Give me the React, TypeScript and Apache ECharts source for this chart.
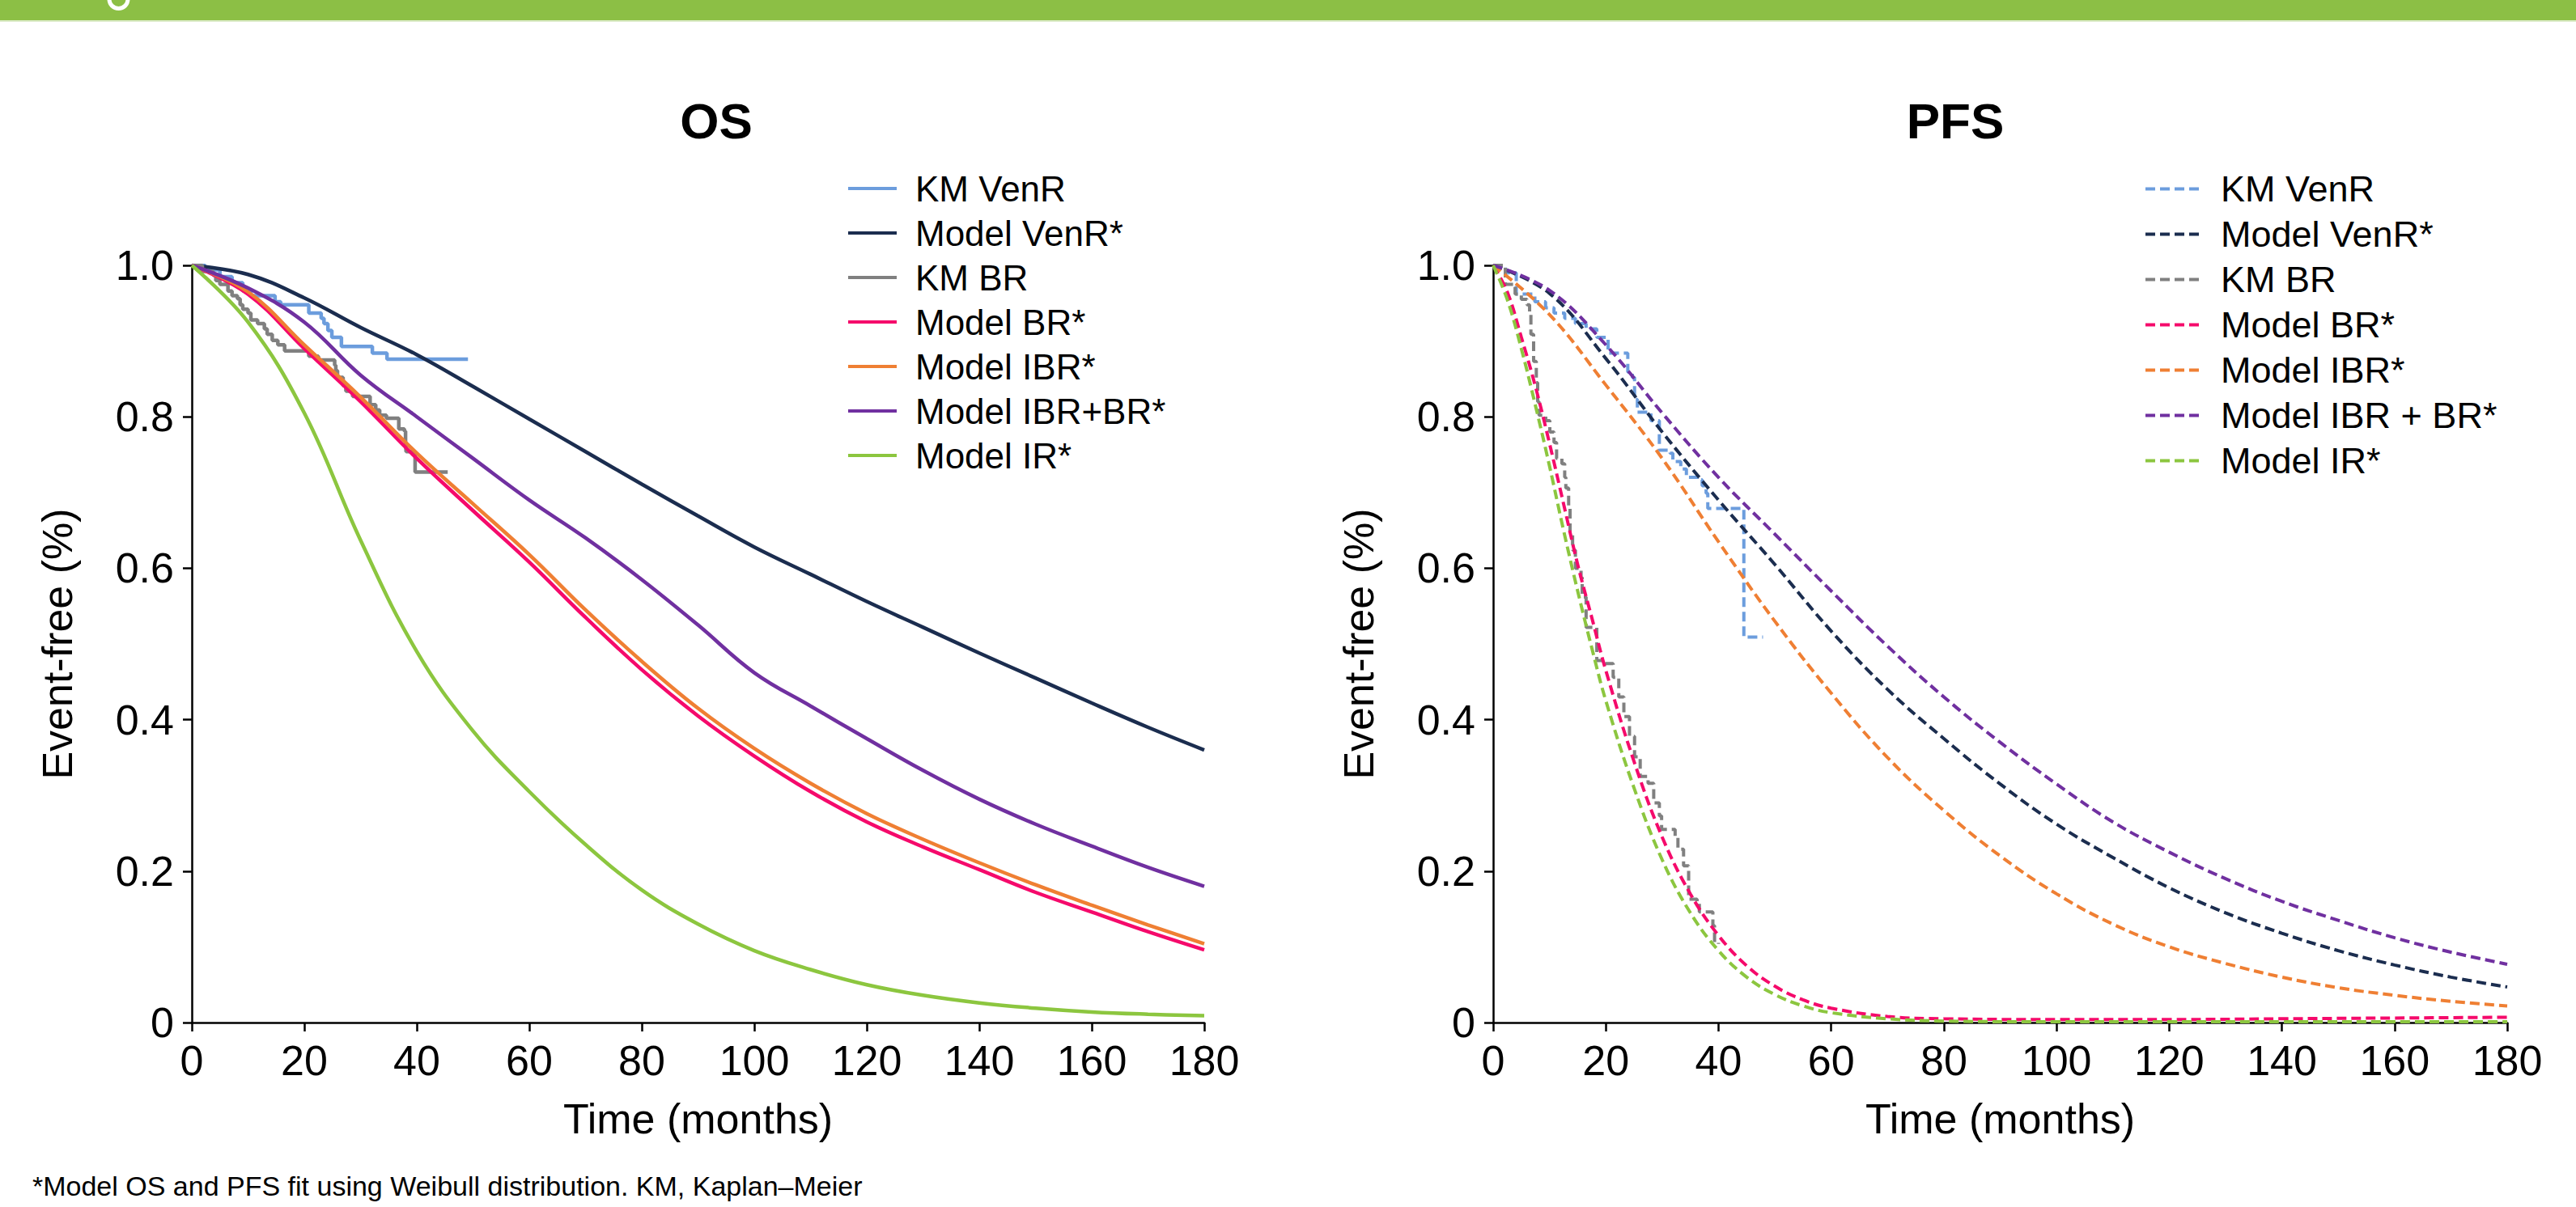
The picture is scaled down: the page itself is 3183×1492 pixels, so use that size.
import React, { useEffect, useRef } from "react";
import * as echarts from "echarts";

const FONT = '"Liberation Sans", Arial, Helvetica, sans-serif';

// ---------- OS data ----------
const osT = [0, 10, 20, 30, 40, 50, 60, 70, 80, 90, 100, 110, 120, 130, 140, 150, 160, 170, 180];
const osModelVenR = [1, 0.988, 0.957, 0.918, 0.882, 0.84, 0.797, 0.754, 0.711, 0.669, 0.628, 0.592, 0.556, 0.522, 0.488, 0.455, 0.422, 0.39, 0.36];
const osModelBR = [1, 0.962, 0.89, 0.82, 0.745, 0.676, 0.608, 0.535, 0.466, 0.405, 0.352, 0.305, 0.265, 0.232, 0.202, 0.172, 0.146, 0.12, 0.096];
const osModelIBR = [1, 0.965, 0.895, 0.826, 0.752, 0.685, 0.618, 0.545, 0.477, 0.415, 0.362, 0.316, 0.276, 0.242, 0.211, 0.182, 0.155, 0.129, 0.104];
const osModelIBRBR = [1, 0.97, 0.925, 0.855, 0.8, 0.745, 0.69, 0.64, 0.585, 0.525, 0.462, 0.418, 0.375, 0.333, 0.295, 0.262, 0.233, 0.205, 0.18];
const osModelIR = [1, 0.925, 0.805, 0.637, 0.49, 0.385, 0.305, 0.235, 0.175, 0.13, 0.095, 0.07, 0.05, 0.036, 0.026, 0.019, 0.014, 0.011, 0.009];

const osKmVenRT = [0, 2.35, 5.0, 7.15, 9.06, 10.5, 14.8, 15.8, 20.8, 23.0, 23.5, 24.2, 24.9, 26.6, 32.1, 34.7, 49.1];
const osKmVenRV = [1, 0.994, 0.985, 0.977, 0.966, 0.96, 0.952, 0.948, 0.937, 0.93, 0.923, 0.914, 0.905, 0.893, 0.884, 0.876, 0.876];
const osKmBRT = [0, 1.87, 3.79, 4.27, 4.99, 6.43, 7.15, 8.11, 8.59, 9.06, 10.0, 10.5, 11.7, 12.9, 13.4, 14.3, 15.3, 16.5, 20.8, 22.5, 25.4, 25.6, 25.9, 26.9, 27.4, 28.6, 31.7, 32.7, 33.4, 34.6, 36.8, 37.8, 38.0, 38.1, 39.7, 45.5];
const osKmBRV = [1, 0.992, 0.987, 0.98, 0.975, 0.966, 0.96, 0.956, 0.948, 0.942, 0.937, 0.928, 0.923, 0.916, 0.909, 0.901, 0.895, 0.887, 0.88, 0.875, 0.868, 0.861, 0.852, 0.841, 0.834, 0.827, 0.816, 0.809, 0.802, 0.798, 0.784, 0.781, 0.766, 0.754, 0.727, 0.727];

// ---------- PFS data ----------
const pfsSlowT = [0, 10, 20, 30, 40, 50, 60, 70, 80, 90, 100, 110, 120, 130, 140, 150, 160, 170, 180];
const pfsModelVenR = [1, 0.963, 0.877, 0.78, 0.69, 0.605, 0.517, 0.44, 0.375, 0.315, 0.262, 0.218, 0.178, 0.145, 0.118, 0.095, 0.076, 0.06, 0.047];
const pfsModelIBR = [1, 0.935, 0.842, 0.745, 0.635, 0.53, 0.435, 0.35, 0.28, 0.22, 0.17, 0.13, 0.1, 0.078, 0.06, 0.046, 0.036, 0.028, 0.022];
const pfsModelIBRBR = [1, 0.967, 0.895, 0.805, 0.72, 0.645, 0.57, 0.497, 0.43, 0.37, 0.315, 0.265, 0.225, 0.19, 0.16, 0.135, 0.112, 0.093, 0.077];

const pfsFastT = [0, 2.5, 5, 7.5, 10, 12.5, 15, 17.5, 20, 25, 30, 35, 40, 45, 50, 55, 60, 70, 80, 100, 120, 140, 160, 180];
const pfsModelBR = [1, 0.965, 0.905, 0.84, 0.765, 0.685, 0.605, 0.535, 0.465, 0.345, 0.245, 0.17, 0.115, 0.075, 0.048, 0.03, 0.019, 0.008, 0.005, 0.004, 0.004, 0.005, 0.006, 0.007];
const pfsModelIR = [1, 0.955, 0.89, 0.815, 0.735, 0.65, 0.57, 0.495, 0.425, 0.31, 0.215, 0.145, 0.095, 0.06, 0.037, 0.022, 0.013, 0.005, 0.002, 0.001, 0.001, 0.001, 0.001, 0.001];

const pfsKmVenRT = [0, 2.2, 4.1, 7.4, 9.3, 10.8, 12.7, 14.6, 16.5, 18.4, 20.4, 23.9, 24.7, 25.1, 25.6, 28.0, 29.5, 31.4, 31.9, 33.3, 34.3, 36.2, 37.1, 37.8, 38.1, 44.5, 47.9];
const pfsKmVenRV = [1, 0.99, 0.962, 0.952, 0.944, 0.937, 0.93, 0.923, 0.916, 0.905, 0.884, 0.859, 0.852, 0.823, 0.806, 0.795, 0.756, 0.752, 0.741, 0.731, 0.72, 0.717, 0.709, 0.699, 0.679, 0.509, 0.509];
const pfsKmBRT = [0, 2.16, 3.9, 5.0, 6.0, 6.47, 6.7, 7.18, 7.66, 7.9, 8.14, 9.34, 10.06, 10.8, 11.26, 12.2, 12.7, 12.9, 13.4, 13.65, 14.1, 14.6, 15.6, 15.8, 16.5, 18.4, 19.9, 21.3, 22.3, 23.2, 24.2, 25.1, 26.1, 27.5, 28.5, 29.5, 29.9, 32.3, 32.8, 33.8, 34.7, 36.2, 36.6, 39.0, 39.3, 40.0];
const pfsKmBRV = [1, 0.975, 0.962, 0.955, 0.948, 0.937, 0.909, 0.873, 0.845, 0.82, 0.802, 0.795, 0.78, 0.766, 0.745, 0.738, 0.72, 0.706, 0.681, 0.645, 0.624, 0.6, 0.588, 0.562, 0.522, 0.478, 0.474, 0.456, 0.43, 0.404, 0.378, 0.351, 0.325, 0.316, 0.29, 0.273, 0.255, 0.246, 0.229, 0.207, 0.163, 0.159, 0.146, 0.128, 0.106, 0.104];

const osNames = ["KM VenR", "Model VenR*", "KM BR", "Model BR*", "Model IBR*", "Model IBR+BR*", "Model IR*"];
const pfsNames = ["KM VenR", "Model VenR*", "KM BR", "Model BR*", "Model IBR*", "Model IBR + BR*", "Model IR*"];

const C_KMVENR = "#6c9ddd";
const C_VENR = "#1b2d4f";
const C_KMBR = "#808080";
const C_BR = "#f50a6b";
const C_IBR = "#ef7f33";
const C_IBRBR = "#7030a0";
const C_IR = "#8cc63f";
const BANNER = "#8cbf45";

const zip = (ts: number[], vs: number[]) => ts.map((t, i) => [t, vs[i]]);

function mkSeries(name: string, data: number[][], color: string, dashed: boolean, step: boolean) {
  return {
    name,
    type: "line",
    data,
    symbol: "none",
    showSymbol: false,
    step: step ? "end" : false,
    smooth: step ? false : 0.4,
    silent: true,
    itemStyle: { color },
    lineStyle: { color, width: dashed ? 4 : 4.5, type: dashed ? [12, 6] : "solid" },
  };
}

function axes(gridLeft: number, gridWidth: number) {
  const axisLine = { show: true, onZero: false, lineStyle: { color: "#000", width: 2.5 } };
  const axisTick = { show: true, length: 11, lineStyle: { color: "#000", width: 2.5 } };
  return {
    grid: { left: gridLeft, top: 328, width: gridWidth, height: 936 },
    xAxis: {
      type: "value",
      min: 0,
      max: 180,
      interval: 20,
      name: "Time (months)",
      nameLocation: "middle",
      nameGap: 93,
      nameTextStyle: { fontSize: 52, color: "#000", fontFamily: FONT },
      axisLine,
      axisTick,
      splitLine: { show: false },
      axisLabel: { fontSize: 52, color: "#000", fontFamily: FONT, margin: 21 },
    },
    yAxis: {
      type: "value",
      min: 0,
      max: 1,
      interval: 0.2,
      name: "Event-free (%)",
      nameLocation: "middle",
      nameGap: 140,
      nameTextStyle: { fontSize: 52, color: "#000", fontFamily: FONT },
      axisLine,
      axisTick,
      splitLine: { show: false },
      axisLabel: {
        fontSize: 52,
        color: "#000",
        fontFamily: FONT,
        margin: 22,
        formatter: (v: number) => (v === 0 ? "0" : v.toFixed(1)),
      },
    },
  };
}

function banner(width: number) {
  return [
    { type: "rect", shape: { x: 0, y: 0, width, height: 25 }, style: { fill: BANNER }, silent: true },
    { type: "rect", shape: { x: 0, y: 25, width, height: 2 }, style: { fill: "#dcebc8" }, silent: true },
  ];
}

function legend(left: number, itemWidth: number, fontSize: number, textPad: number, names: string[]) {
  return {
    orient: "vertical",
    left,
    top: 211,
    padding: 0,
    itemWidth,
    itemHeight: 14,
    itemGap: 11,
    selectedMode: false,
    itemStyle: { opacity: 0 },
    lineStyle: { width: 4 },
    textStyle: { fontSize, color: "#000", fontFamily: FONT, padding: [0, 0, 0, textPad] },
    data: names,
  };
}

function leftOption() {
  const a = axes(237, 1251);
  return {
    animation: false,
    backgroundColor: "#fff",
    ...a,
    legend: legend(1046, 60, 44, 18, osNames),
    graphic: [
      ...banner(1592),
      {
        type: "arc",
        silent: true,
        shape: { cx: 146.5, cy: -1, r: 11.5, startAngle: 0, endAngle: Math.PI, clockwise: true },
        style: { stroke: "#fff", lineWidth: 5, fill: null },
      },
      {
        type: "text",
        x: 885,
        y: 149,
        silent: true,
        style: { text: "OS", fill: "#000", font: `bold 62px ${FONT}`, textAlign: "center", textVerticalAlign: "middle" },
      },
      {
        type: "text",
        x: 40,
        y: 1466,
        silent: true,
        style: {
          text: "*Model OS and PFS fit using Weibull distribution. KM, Kaplan–Meier",
          fill: "#000",
          font: `34px ${FONT}`,
          textAlign: "left",
          textVerticalAlign: "middle",
        },
      },
    ],
    series: [
      mkSeries(osNames[0], zip(osKmVenRT, osKmVenRV), C_KMVENR, false, true),
      mkSeries(osNames[1], zip(osT, osModelVenR), C_VENR, false, false),
      mkSeries(osNames[2], zip(osKmBRT, osKmBRV), C_KMBR, false, true),
      mkSeries(osNames[3], zip(osT, osModelBR), C_BR, false, false),
      mkSeries(osNames[4], zip(osT, osModelIBR), C_IBR, false, false),
      mkSeries(osNames[5], zip(osT, osModelIBRBR), C_IBRBR, false, false),
      mkSeries(osNames[6], zip(osT, osModelIR), C_IR, false, false),
    ],
  };
}

function rightOption() {
  const a = axes(253, 1253);
  return {
    animation: false,
    backgroundColor: "#fff",
    ...a,
    legend: legend(1057, 67, 45, 21, pfsNames),
    graphic: [
      ...banner(1591),
      {
        type: "text",
        x: 824,
        y: 149,
        silent: true,
        style: { text: "PFS", fill: "#000", font: `bold 62px ${FONT}`, textAlign: "center", textVerticalAlign: "middle" },
      },
    ],
    series: [
      mkSeries(pfsNames[0], zip(pfsKmVenRT, pfsKmVenRV), C_KMVENR, true, true),
      mkSeries(pfsNames[1], zip(pfsSlowT, pfsModelVenR), C_VENR, true, false),
      mkSeries(pfsNames[2], zip(pfsKmBRT, pfsKmBRV), C_KMBR, true, true),
      mkSeries(pfsNames[3], zip(pfsFastT, pfsModelBR), C_BR, true, false),
      mkSeries(pfsNames[4], zip(pfsSlowT, pfsModelIBR), C_IBR, true, false),
      mkSeries(pfsNames[5], zip(pfsSlowT, pfsModelIBRBR), C_IBRBR, true, false),
      mkSeries(pfsNames[6], zip(pfsFastT, pfsModelIR), C_IR, true, false),
    ],
  };
}

export default function App() {
  const leftRef = useRef<HTMLDivElement>(null);
  const rightRef = useRef<HTMLDivElement>(null);

  useEffect(() => {
    const l = echarts.init(leftRef.current!, undefined, { renderer: "svg" });
    const r = echarts.init(rightRef.current!, undefined, { renderer: "svg" });
    l.setOption(leftOption() as any);
    r.setOption(rightOption() as any);
    return () => {
      l.dispose();
      r.dispose();
    };
  }, []);

  return (
    <div style={{ position: "absolute", left: 0, top: 0, width: 3183, height: 1492, background: "#fff", overflow: "hidden" }}>
      <div ref={leftRef} style={{ position: "absolute", left: 0, top: 0, width: 1592, height: 1492 }} />
      <div ref={rightRef} style={{ position: "absolute", left: 1592, top: 0, width: 1591, height: 1492 }} />
    </div>
  );
}
